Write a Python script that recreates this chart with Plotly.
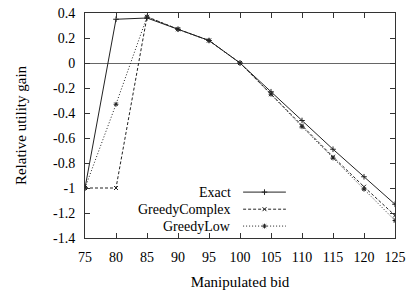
import plotly.graph_objects as go

bids = [75, 80, 85, 90, 95, 100, 105, 110, 115, 120, 125]
exact = [-1.0, 0.35, 0.36, 0.27, 0.18, 0.0, -0.23, -0.46, -0.69, -0.91, -1.13]
greedy_complex = [-1.0, -1.0, 0.37, 0.27, 0.18, 0.0, -0.25, -0.50, -0.75, -0.99, -1.22]
greedy_low = [-1.0, -0.33, 0.37, 0.27, 0.18, 0.0, -0.25, -0.51, -0.76, -1.01, -1.26]
names = ["Exact", "GreedyComplex", "GreedyLow"]
x_ticks = [75, 80, 85, 90, 95, 100, 105, 110, 115, 120, 125]
y_ticks = [0.4, 0.2, 0, -0.2, -0.4, -0.6, -0.8, -1, -1.2, -1.4]

FONT = "Liberation Serif, Times New Roman, serif"
styles = [
    dict(dash="solid", symbol="cross-thin", color="#222"),
    dict(dash="3px,2px", symbol="x-thin", color="#222"),
    dict(dash="1px,2px", symbol="asterisk", color="#222"),
]
series = [exact, greedy_complex, greedy_low]

fig = go.Figure()
for name, ys, st in zip(names, series, styles):
    fig.add_trace(go.Scatter(
        x=bids, y=ys, name=name, mode="lines+markers",
        line=dict(color=st["color"], width=1, dash=st["dash"]),
        marker=dict(symbol=st["symbol"], size=4, color=st["color"],
                    line=dict(width=1, color=st["color"])),
        showlegend=False,
    ))

# manual legend (text left of the line sample, as in the reference)
leg_y = [0.204, 0.128, 0.053]
for name, st, yy in zip(names, styles, leg_y):
    fig.add_annotation(x=0.476, y=yy, xref="paper", yref="paper", text=name,
                       showarrow=False, xanchor="right", yanchor="middle",
                       font=dict(family=FONT, size=14, color="black"))
    fig.add_shape(type="line", xref="paper", yref="paper", x0=0.51, x1=0.648,
                  y0=yy, y1=yy, line=dict(color=st["color"], width=1, dash=st["dash"]))
    fig.add_trace(go.Scatter(
        x=[0.579], y=[yy], xaxis="x2", yaxis="y2", mode="markers",
        marker=dict(symbol=st["symbol"], size=4, color=st["color"],
                    line=dict(width=1, color=st["color"])),
        showlegend=False, hoverinfo="skip"))

axis_common = dict(
    showgrid=False, ticks="inside", ticklen=5, tickcolor="#333",
    showline=True, linecolor="#333", linewidth=1, mirror="ticks",
    tickfont=dict(family=FONT, size=14, color="black"),
    ticklabeloverflow="allow", ticklabelstandoff=6,
)
fig.update_layout(
    width=407, height=291,
    margin=dict(l=85, r=12, t=13, b=53, autoexpand=False),
    paper_bgcolor="white", plot_bgcolor="white",
    font=dict(family=FONT, size=14, color="black"),
    xaxis=dict(range=[75, 125], tickvals=x_ticks, zeroline=False,
               title=dict(text="Manipulated bid", font=dict(family=FONT, size=15, color="black"), standoff=12),
               **axis_common),
    yaxis=dict(range=[-1.4, 0.4], tickvals=y_ticks, ticktext=[("%g" % v) for v in y_ticks],
               zeroline=True, zerolinecolor="#666", zerolinewidth=1,
               title=dict(text="Relative utility gain", font=dict(family=FONT, size=15, color="black"), standoff=22),
               **axis_common),
    xaxis2=dict(range=[0, 1], overlaying="x", visible=False),
    yaxis2=dict(range=[0, 1], overlaying="y", visible=False),
    showlegend=False,
)
fig.write_html("out.html", config={"displayModeBar": False},
               post_script="document.body.style.margin='0';")
